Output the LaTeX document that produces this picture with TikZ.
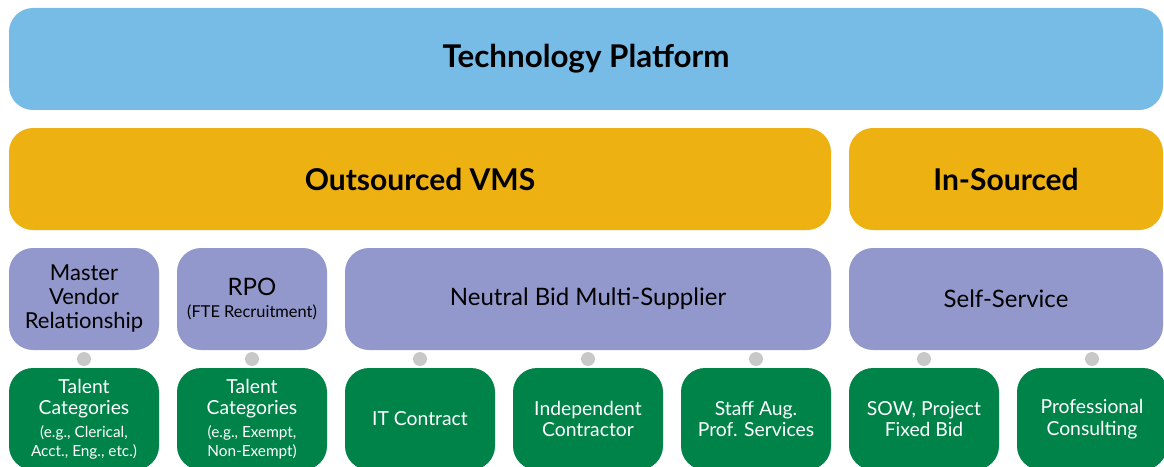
\documentclass[tikz,border=0pt]{standalone}
\usepackage{fontspec}
\setmainfont{Lato}
\usepackage{xcolor}
\usetikzlibrary{positioning,calc}

\definecolor{platformblue}{RGB}{119,188,230}
\definecolor{vmsgold}{RGB}{237,177,18}
\definecolor{modelpurple}{RGB}{146,152,203}
\definecolor{catgreen}{RGB}{0,131,72}
\definecolor{dotgrey}{RGB}{200,200,200}

\newcommand{\smalltxt}{\fontsize{11.5}{13}\selectfont}
\newcommand{\rpotxt}{\fontsize{12.3}{14}\selectfont}

\tikzset{
  tile/.style={rounded corners=18pt, inner sep=2pt, align=center, minimum height=76.5pt},
  platform/.style={tile, fill=platformblue, font=\fontsize{23.5}{28}\selectfont\bfseries},
  vms/.style={tile, fill=vmsgold, font=\fontsize{22.5}{27}\selectfont\bfseries},
  model/.style={tile, fill=modelpurple, font=\fontsize{18}{21}\selectfont},
  category/.style={tile, fill=catgreen, text=white, minimum width=112.5pt,
    font=\fontsize{14.5}{16}\selectfont},
  joint/.style={circle, fill=dotgrey, inner sep=0pt, minimum size=10.5pt}
}

\begin{document}
\begin{tikzpicture}[x=0.75pt,y=0.75pt,yscale=-1,xscale=1]
\useasboundingbox (0,0) rectangle (1164,467);
\clip (0,0) rectangle (1164,467);

% top bar
\node[platform, minimum width=865.5pt] (platform) at (586,59) {Technology Platform};

% sourcing row
\node[vms, minimum width=616.5pt] (outsourced) at (420,179) {Outsourced VMS};
\node[vms, minimum width=235.5pt] (insourced) at (1006,179) {In-Sourced};

% program models
\node[model, minimum width=112.5pt, font=\fontsize{16.5}{18}\selectfont] (mvr) at (84,299) {Master\\Vendor\\Relationship};
\node[model, minimum width=112.5pt] (rpo) at (252,299) {RPO\\[-4pt]{\rpotxt (FTE Recruitment)}};
\node[model, minimum width=364.5pt] (neutral) at (588,299) {Neutral Bid Multi-Supplier};
\node[model, minimum width=235.5pt] (selfserv) at (1006,299) {Self-Service};

% worker categories
\node[category] (talentA) at (84,419) {Talent\\Categories\\[1pt]{\smalltxt (e.g., Clerical,}\\[-2pt]{\smalltxt Acct., Eng., etc.)}};
\node[category] (talentB) at (252,419) {Talent\\Categories\\[1pt]{\smalltxt (e.g., Exempt,}\\[-2pt]{\smalltxt Non-Exempt)}};
\node[category] (itc) at (420,419) {IT Contract};
\node[category] (indep) at (588,419) {Independent\\Contractor};
\node[category] (staffaug) at (756,419) {Staff Aug.\\Prof. Services};
\node[category] (sow) at (924,419) {SOW, Project\\Fixed Bid};
\node[category] (consult) at (1092,419) {Professional\\Consulting};

% joints between models and categories
\node[joint] (j1) at ($(mvr.south)!0.5!(talentA.north)$) {};
\node[joint] (j2) at ($(rpo.south)!0.5!(talentB.north)$) {};
\foreach \c/\n in {itc/j3, indep/j4, staffaug/j5}
  \node[joint] (\n) at ($(neutral.south -| \c.north)!0.5!(\c.north)$) {};
\foreach \c/\n in {sow/j6, consult/j7}
  \node[joint] (\n) at ($(selfserv.south -| \c.north)!0.5!(\c.north)$) {};

\end{tikzpicture}
\end{document}
